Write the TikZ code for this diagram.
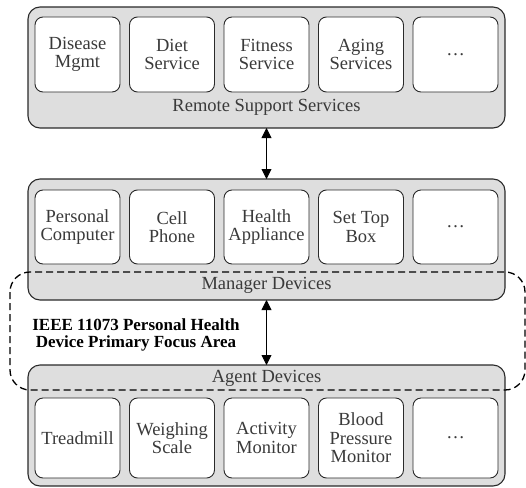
\documentclass[tikz,border=0pt]{standalone}
\usepackage{fontspec}
\setmainfont{Liberation Serif}
\usetikzlibrary{arrows.meta}
\definecolor{boxgray}{HTML}{DEDEDE}
\definecolor{txtgray}{HTML}{3A3A3A}
\definecolor{linegray}{HTML}{2A2A2A}
\tikzset{
  group/.style={draw=linegray, line width=1.1pt, fill=boxgray, rounded corners=12pt,
    minimum width=477pt, inner sep=0pt, outer sep=0pt},
  item/.style={draw=linegray, line width=0.9pt, fill=white, rounded corners=8pt,
    minimum width=85pt, inner sep=0pt, outer sep=0pt, align=center, text=txtgray,
    font=\fontsize{18.5}{18.5}\selectfont},
  grouplabel/.style={text=txtgray, font=\fontsize{18.5}{18.5}\selectfont, inner sep=0pt},
  biarrow/.style={{Triangle[width=10pt,length=10pt]}-{Triangle[width=10pt,length=10pt]}, line width=0.9pt, black},
  focus/.style={dashed, dash pattern=on 7pt off 4pt, line width=1.3pt, black, rounded corners=20pt},
}
\begin{document}
\begin{tikzpicture}[x=1pt,y=-1pt]
\useasboundingbox (0,0) rectangle (526,487);
% groups
\node[group, minimum height=121pt] (top) at (266.5,67.5) {};
\node[group, minimum height=121pt] (mid) at (266.5,239.5) {};
\node[group, minimum height=121pt] (bot) at (266.5,425.5) {};
% group labels
\node[grouplabel] (toplab) at (266.5,107) {Remote Support Services};
\node[grouplabel] (midlab) at (266.5,285) {Manager Devices};
\node[grouplabel] (botlab) at (266.5,378) {Agent Devices};
% top items
\node[item, minimum height=75pt] (t1) at (77.5,54.5) {Disease\\Mgmt};
\node[item, minimum height=75pt] (t2) at (172,54.5) {Diet\\Service};
\node[item, minimum height=75pt] (t3) at (266.5,54.5) {Fitness\\Service};
\node[item, minimum height=75pt] (t4) at (361,54.5) {Aging\\Services};
\node[item, minimum height=75pt] (t5) at (455.5,54.5) {…};
% middle items
\node[item, minimum height=74pt] (m1) at (77.5,227) {Personal\\Computer};
\node[item, minimum height=74pt] (m2) at (172,227) {Cell\\Phone};
\node[item, minimum height=74pt] (m3) at (266.5,227) {Health\\Appliance};
\node[item, minimum height=74pt] (m4) at (361,227) {Set Top\\Box};
\node[item, minimum height=74pt] (m5) at (455.5,227) {…};
% bottom items
\node[item, minimum height=80pt] (b1) at (77.5,438) {Treadmill};
\node[item, minimum height=80pt] (b2) at (172,438) {Weighing\\Scale};
\node[item, minimum height=80pt] (b3) at (266.5,438) {Activity\\Monitor};
\node[item, minimum height=80pt] (b4) at (361,438) {Blood\\Pressure\\Monitor};
\node[item, minimum height=80pt] (b5) at (455.5,438) {…};
% arrows
\draw[biarrow] (top.south) -- (mid.north);
\draw[biarrow] (mid.south) -- (bot.north);
% focus area
\draw[focus] (10,272) rectangle (525,390);
\node[align=center, font=\bfseries\fontsize{17}{16.5}\selectfont, inner sep=0pt] (focuslab) at (136,335) {IEEE 11073 Personal Health\\Device Primary Focus Area};
\end{tikzpicture}
\end{document}
